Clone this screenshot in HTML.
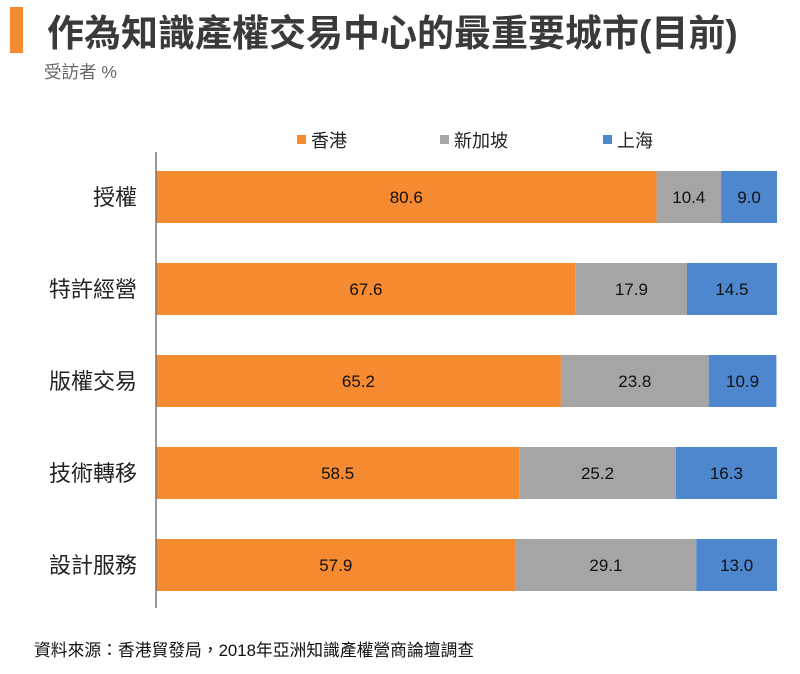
<!DOCTYPE html>
<html><head><meta charset="utf-8">
<style>
body{margin:0;background:#fff;width:800px;height:669px;overflow:hidden;font-family:"Liberation Sans","Noto Sans CJK TC",sans-serif;}
</style></head>
<body>
<svg width="800" height="669" xmlns="http://www.w3.org/2000/svg">
<rect x="10" y="7" width="13" height="46" fill="#f58a31"/>
<text x="47" y="46" font-size="37" font-weight="bold" fill="#3a3a3a" font-family="'Liberation Sans','Noto Sans CJK TC',sans-serif">作為知識產權交易中心的最重要城市(目前)</text>
<text x="44" y="78" font-size="17.5" fill="#666" font-family="'Liberation Sans','Noto Sans CJK TC',sans-serif">受訪者 %</text>
<g id="legend"></g>
<g id="bars"></g>
<line x1="156" y1="152" x2="156" y2="608" stroke="#777" stroke-width="1.5"/>
<text x="34" y="656" font-size="16.8" fill="#111" font-family="'Liberation Sans','Noto Sans CJK TC',sans-serif">資料來源：香港貿發局，2018年亞洲知識產權營商論壇調查</text>
</svg>
<script>
const categories=["授權","特許經營","版權交易","技術轉移","設計服務"];
const seriesNames=["香港","新加坡","上海"];
const hongKong=[80.6,67.6,65.2,58.5,57.9];
const singapore=[10.4,17.9,23.8,25.2,29.1];
const shanghai=[9.0,14.5,10.9,16.3,13.0];
const colors=["#f58a31","#a5a5a5","#4f87cf"];
const NS="http://www.w3.org/2000/svg";
const x0=156,plotW=621,rowTop=171,rowStep=92,barH=52;
const xs=v=>v/100*plotW;
const ys=i=>rowTop+i*rowStep;
const font="'Liberation Sans','Noto Sans CJK TC',sans-serif";
const barsG=document.getElementById('bars');
const series=[hongKong,singapore,shanghai];
categories.forEach((c,i)=>{
  const t=document.createElementNS(NS,'text');
  
  
  t.setAttribute('x',137);t.setAttribute('y',ys(i)+barH/2+8);
  t.setAttribute('text-anchor','end');t.setAttribute('font-size','22');
  t.setAttribute('fill','#222');t.setAttribute('font-family',font);
  t.textContent=c;barsG.appendChild(t);
  let acc=0;
  series.forEach((s,k)=>{
    const r=document.createElementNS(NS,'rect');
    
    
    r.setAttribute('x',x0+xs(acc));r.setAttribute('y',ys(i));
    r.setAttribute('width',xs(s[i]));r.setAttribute('height',barH);
    r.setAttribute('fill',colors[k]);barsG.appendChild(r);
    const l=document.createElementNS(NS,'text');
    
    
    l.setAttribute('x',x0+xs(acc+s[i]/2));l.setAttribute('y',ys(i)+barH/2+6);
    l.setAttribute('text-anchor','middle');l.setAttribute('font-size','17');
    l.setAttribute('fill','#111');l.setAttribute('font-family',font);
    l.textContent=s[i].toFixed(1);barsG.appendChild(l);
    acc+=s[i];
  });
});
const lg=document.getElementById('legend');
const legX=[297,440,603];
seriesNames.forEach((n,k)=>{
  const r=document.createElementNS(NS,'rect');
  
  
  r.setAttribute('x',legX[k]);r.setAttribute('y',135);r.setAttribute('width',9);r.setAttribute('height',9);
  r.setAttribute('fill',colors[k]);lg.appendChild(r);
  const t=document.createElementNS(NS,'text');
  
  
  t.setAttribute('x',legX[k]+14);t.setAttribute('y',147);t.setAttribute('font-size','18');
  t.setAttribute('fill','#222');t.setAttribute('font-family',font);
  t.textContent=n;lg.appendChild(t);
});
</script>
</body></html>
